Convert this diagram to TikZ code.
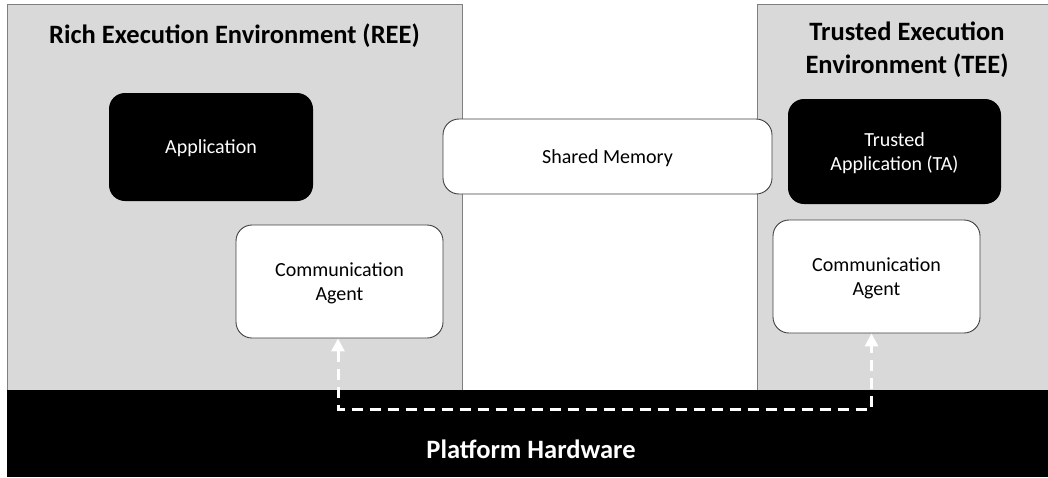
\documentclass[tikz,border=0pt]{standalone}
\usepackage{fontspec}
\setmainfont{Carlito}
\usetikzlibrary{arrows.meta}
\definecolor{envgray}{HTML}{D9D9D9}
\definecolor{envline}{HTML}{7F7F7F}
\definecolor{boxline}{HTML}{404040}
\tikzset{
  envbox/.style={draw=envline, fill=envgray, line width=1pt, inner sep=0pt},
  darkbox/.style={fill=black, rounded corners=16pt, inner sep=0pt, text=white, font=\fontsize{20}{24}\selectfont, align=center, text depth=0pt},
  lightbox/.style={draw=boxline, fill=white, line width=0.9pt, rounded corners=16pt, inner sep=0pt, font=\fontsize{20}{24}\selectfont, align=center, text depth=0pt},
  title/.style={font=\bfseries\fontsize{26.5}{33}\selectfont, align=center, inner sep=0pt},
  link/.style={white, line width=3pt, dash pattern=on 11pt off 7pt, {Triangle[width=13pt,length=13pt]}-{Triangle[width=13pt,length=13pt]}}
}
\begin{document}
\begin{tikzpicture}[x=1pt, y=-1pt]
\useasboundingbox (0,0) rectangle (1048,477);
\node[envbox, minimum width=455pt, minimum height=386pt] (ree) at (234.5,197) {};
\node[envbox, minimum width=292pt, minimum height=386pt] (tee) at (903,197) {};
\node[fill=black, minimum width=1041pt, minimum height=87pt, inner sep=0pt] (hw) at (527.5,433.5) {};
\node[anchor=base, text=white, font=\bfseries\fontsize{26.5}{33}\selectfont, inner sep=0pt] (hwt) at (531,458) {Platform Hardware};
\node[title, anchor=base] (reet) at (234.5,43) {Rich Execution Environment (REE)};
\node[title] (teet) at (907,50) {Trusted Execution\\Environment (TEE)};
\node[darkbox, minimum width=204pt, minimum height=108pt] (app) at (211,147) {Application};
\node[lightbox, minimum width=207pt, minimum height=113pt] (cl) at (339.5,281.5) {Communication\\Agent};
\node[lightbox, minimum width=329pt, minimum height=75pt] (sm) at (607.5,156.5) {Shared Memory};
\node[darkbox, minimum width=213pt, minimum height=105pt] (ta) at (894.5,151.5) {Trusted\\Application (TA)};
\node[lightbox, minimum width=207pt, minimum height=113pt] (cr) at (876.5,276.5) {Communication\\Agent};
\coordinate (cls) at ([xshift=-1.5pt]cl.south);
\coordinate (crs) at ([xshift=-5pt]cr.south);
\draw[link] (cls) -- (cls |- 0,409) -- (crs |- 0,409) -- (crs);
\end{tikzpicture}
\end{document}
